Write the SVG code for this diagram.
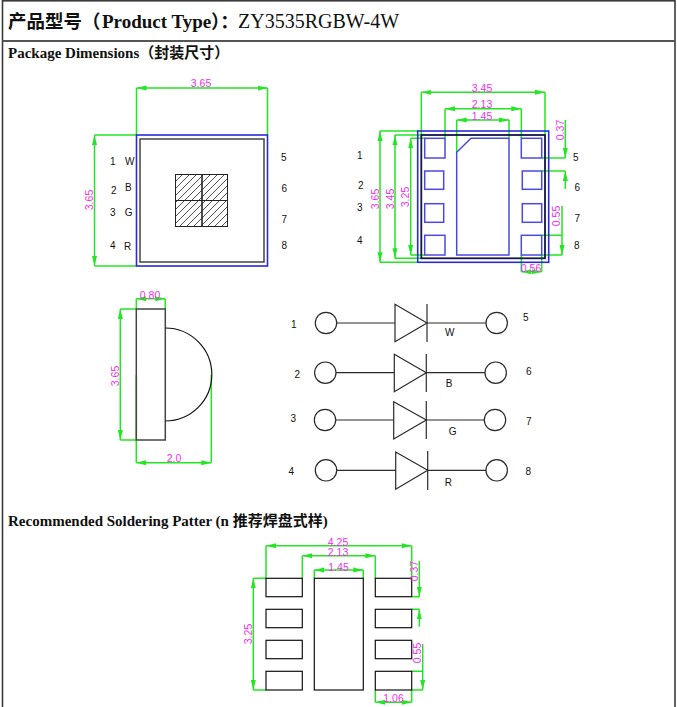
<svg xmlns="http://www.w3.org/2000/svg" width="677" height="707" viewBox="0 0 677 707">
<style>
.frame{fill:none;stroke:#3a3a3a;stroke-width:1.6}
.title{font-family:"Liberation Serif","Noto Sans CJK SC",serif;font-size:18.5px;font-weight:bold;fill:#111}
.sec{font-family:"Liberation Serif","Noto Sans CJK SC",serif;font-size:15px;font-weight:bold;fill:#111}
.dim{fill:none;stroke:#22e622;stroke-width:1.5}
.arr{marker-start:url(#a);marker-end:url(#a)}
.arrE{marker-end:url(#a)}
.arrS{marker-start:url(#a)}
.dt{font-family:"Liberation Sans",sans-serif;font-size:10.5px;fill:#f030f0;text-anchor:middle}
.lb{font-family:"Liberation Sans",sans-serif;font-size:10px;fill:#111;text-anchor:middle}
.blue{fill:none;stroke:#2a2ad8;stroke-width:1.6}
.bluel{fill:none;stroke:#4a4ae0;stroke-width:1.5}
.blk{fill:none;stroke:#111;stroke-width:1.2}
.blk2{fill:none;stroke:#444;stroke-width:1.5}
.wire{fill:none;stroke:#2a2a2a;stroke-width:1.2}
</style>
<defs>
<marker id="a" markerUnits="userSpaceOnUse" markerWidth="12" markerHeight="6" refX="10" refY="3" orient="auto-start-reverse"><path d="M10,3 L0,.5 L0,5.5 Z" fill="#22e622"/></marker>
<pattern id="h" patternUnits="userSpaceOnUse" width="7" height="7"><path d="M-1,8 L8,-1 M-1,1 L1,-1 M6,8 L8,6" stroke="#222" stroke-width=".8"/></pattern>
</defs>

<g id="frame">
<rect class="frame" x="2.5" y="0.8" width="672.5" height="720"/>
<line x1="2.5" y1="41" x2="675" y2="41" stroke="#555" stroke-width="2"/>
</g>
<g id="titles">
<text class="title" x="8" y="27.5">产品型号（<tspan x="102" font-size="19">Product Type</tspan><tspan x="211">）：</tspan><tspan x="238" font-size="20" font-weight="normal">ZY3535RGBW-4W</tspan></text>
<text class="sec" x="8" y="58">Package Dimensions（封装尺寸）</text>
<text class="sec" x="8" y="526">Recommended Soldering Patter (n 推荐焊盘式样)</text>
</g>

<g id="connectors">
<path class="dim" d="M136.5,135V88M267.5,135V88M136.5,266H94.5M136.5,135H94.5"/>
<line class="dim arr" x1="136.5" y1="88" x2="267.5" y2="88"/>
<line class="dim arr" x1="94.5" y1="135" x2="94.5" y2="266"/>
<path class="dim" d="M421.3,135V92.3M545,135V92.3M445,138.3V108.7M521.3,138.3V108.7M456.7,152V120M509,138.3V120M418,131H380M418,262.3H380M421.3,135H395M421.3,258.3H395M424.7,138.3H410.7M424.7,255H410.7M541.7,158H565.3M541.7,171H565.3M541.7,235.3H562M541.7,255H562M521.3,255V271.7M541.7,255V271.7"/>
<line class="dim arr" x1="421.3" y1="92.3" x2="545" y2="92.3"/>
<line class="dim arr" x1="445" y1="108.7" x2="521.3" y2="108.7"/>
<line class="dim arr" x1="456.7" y1="120" x2="509" y2="120"/>
<line class="dim arr" x1="380" y1="131" x2="380" y2="262.3"/>
<line class="dim arr" x1="395" y1="135" x2="395" y2="258.3"/>
<line class="dim arr" x1="410.7" y1="138.3" x2="410.7" y2="255"/>
<line class="dim arrE" x1="565.3" y1="120" x2="565.3" y2="158"/>
<line class="dim arrS" x1="565.3" y1="171" x2="565.3" y2="189"/>
<line class="dim arrE" x1="562" y1="206" x2="562" y2="255"/>
<line class="dim arr" x1="521.3" y1="271.7" x2="541.7" y2="271.7"/>
<path class="dim" d="M136.3,309V298.7M165.3,309V298.7M136.3,309H120.3M136.3,440H120.3M136.3,375V462.7M211.3,375V462.7"/>
<line class="dim arr" x1="136.3" y1="298.7" x2="165.3" y2="298.7"/>
<line class="dim arr" x1="120.3" y1="309" x2="120.3" y2="440"/>
<line class="dim arr" x1="136.3" y1="462.7" x2="211.3" y2="462.7"/>
<path class="dim" d="M266,578.3V545.7M411.7,578.3V545.7M302.3,578.3V555.7M375.3,578.3V555.7M314.3,578.3V570M363.3,578.3V570M266,578.3H253.3M266,690H253.3M411.7,596.7H419.3M411.7,609.3H419.3M411.7,671.3H422.7M411.7,690H422.7M375.3,690V702.3M411.7,690V702.3"/>
<line class="dim arr" x1="266" y1="545.7" x2="411.7" y2="545.7"/>
<line class="dim arr" x1="302.3" y1="555.7" x2="375.3" y2="555.7"/>
<line class="dim arr" x1="314.3" y1="570" x2="363.3" y2="570"/>
<line class="dim arr" x1="253.3" y1="578.3" x2="253.3" y2="690"/>
<line class="dim arrE" x1="419.3" y1="561" x2="419.3" y2="596.7"/>
<line class="dim arrS" x1="419.3" y1="609.3" x2="419.3" y2="626.7"/>
<line class="dim arrE" x1="422.7" y1="644" x2="422.7" y2="690"/>
<line class="dim arr" x1="375.3" y1="702.3" x2="411.7" y2="702.3"/>
<path class="wire" d="M336.7,323H395M427,323H486M336,372.7H394.3M426.3,372.7H485M335.7,420H393.7M426.3,420H484.3M336.7,470.3H395.7M427.7,470.3H486"/>
</g>

<g id="top-view">
<rect class="blue" x="136.5" y="135" width="131" height="131"/>
<rect class="blk2" x="140" y="139" width="124" height="123"/>
<rect x="175.5" y="174.5" width="52" height="52" fill="url(#h)" stroke="#222"/>
<path d="M202,174.5V226.5" stroke="#222" stroke-width="1.6"/>
<path d="M175.5,200.5H227.5" stroke="#222"/>
</g>

<g id="bottom-view">
<rect class="blue" x="417.7" y="131" width="131" height="131.3"/>
<rect fill="none" stroke="#15154a" stroke-width="1.8" x="421.3" y="135" width="123.7" height="123.3"/>
<g class="bluel">
<rect x="424.7" y="138.3" width="20.3" height="19.7"/>
<rect x="424.7" y="171" width="19" height="18.3"/>
<rect x="424.7" y="203.7" width="19" height="18.6"/>
<rect x="424.7" y="235.3" width="20.3" height="19.7"/>
<rect x="521.3" y="138.3" width="20.4" height="19.7"/>
<rect x="522.3" y="171" width="19.4" height="18.3"/>
<rect x="522.3" y="203.7" width="19.4" height="18.6"/>
<rect x="521.3" y="235.3" width="20.4" height="19.7"/>
<path d="M456.7,152.3L471,138.3H509V255H456.7Z"/>
</g>
</g>

<g id="side-view">
<rect class="blk2" x="136.3" y="309" width="29" height="131"/>
<path class="blk" d="M165.3,328A46.5,46.5 0 0 1 165.3,421"/>
</g>

<g id="circuit">
<g class="wire">
<circle cx="326" cy="323" r="10.7"/><path d="M395,304.3V341.7L427,323Z"/><path d="M427,304V342"/><circle cx="496.7" cy="323" r="10.7"/>
<circle cx="325.3" cy="372.7" r="10.7"/><path d="M394.3,354.3V391.7L426.3,372.7Z"/><path d="M426.3,354V392"/><circle cx="495.7" cy="372.7" r="10.7"/>
<circle cx="325" cy="420" r="10.7"/><path d="M393.7,401.7V439L426.3,420Z"/><path d="M426.3,401V439"/><circle cx="495" cy="420" r="10.7"/>
<circle cx="326" cy="470.3" r="10.7"/><path d="M395.7,452V489.3L427.7,470.3Z"/><path d="M427.7,451V490"/><circle cx="496.7" cy="470.3" r="10.7"/>
</g>
</g>

<g id="soldering">
<g class="blk">
<rect x="266" y="578.3" width="36.3" height="18.4"/>
<rect x="266" y="609.3" width="36.3" height="18.4"/>
<rect x="266" y="640.3" width="36.3" height="18.4"/>
<rect x="266" y="671.3" width="36.3" height="18.7"/>
<rect x="375.3" y="578.3" width="36.4" height="18.4"/>
<rect x="375.3" y="609.3" width="36.4" height="18.4"/>
<rect x="375.3" y="640.3" width="36.4" height="18.4"/>
<rect x="375.3" y="671.3" width="36.4" height="18.7"/>
<rect x="314.3" y="578.3" width="49" height="111.7"/>
</g>
</g>

<g id="dim-labels">
<text class="dt" x="201" y="87">3.65</text>
<text class="dt" transform="translate(93,200) rotate(-90)">3.65</text>
<text class="dt" x="482" y="92">3.45</text>
<text class="dt" x="482" y="108">2.13</text>
<text class="dt" x="482" y="119.5">1.45</text>
<text class="dt" transform="translate(379,199) rotate(-90)">3.65</text>
<text class="dt" transform="translate(394,199) rotate(-90)">3.45</text>
<text class="dt" transform="translate(409,197) rotate(-90)">3.25</text>
<text class="dt" transform="translate(564,130) rotate(-90)">0.37</text>
<text class="dt" transform="translate(560,216) rotate(-90)">0.55</text>
<text class="dt" x="531" y="271.5">0.56</text>
<text class="dt" x="150" y="298.5">0.80</text>
<text class="dt" transform="translate(119,376) rotate(-90)">3.65</text>
<text class="dt" x="174" y="462">2.0</text>
<text class="dt" x="338" y="545.5">4.25</text>
<text class="dt" x="338" y="555.5">2.13</text>
<text class="dt" x="338.5" y="571">1.45</text>
<text class="dt" transform="translate(252,634) rotate(-90)">3.25</text>
<text class="dt" transform="translate(418,571) rotate(-90)">0.37</text>
<text class="dt" transform="translate(421,653) rotate(-90)">0.55</text>
<text class="dt" x="393.5" y="702">1.06</text>
</g>

<g id="pin-labels">
<text class="lb" x="112.7" y="165">1</text><text class="lb" x="129.7" y="165">W</text>
<text class="lb" x="113.7" y="194">2</text><text class="lb" x="128.3" y="191">B</text>
<text class="lb" x="112.7" y="216">3</text><text class="lb" x="128.7" y="216">G</text>
<text class="lb" x="112.7" y="249">4</text><text class="lb" x="127.7" y="250">R</text>
<text class="lb" x="283.7" y="161">5</text><text class="lb" x="284.3" y="192">6</text>
<text class="lb" x="284.3" y="223">7</text><text class="lb" x="284.3" y="249">8</text>
<text class="lb" x="359.7" y="159">1</text><text class="lb" x="360.7" y="189">2</text>
<text class="lb" x="359.7" y="211">3</text><text class="lb" x="359.7" y="244">4</text>
<text class="lb" x="575.7" y="161">5</text><text class="lb" x="577.3" y="191">6</text>
<text class="lb" x="577.3" y="222">7</text><text class="lb" x="576.7" y="249">8</text>
<text class="lb" x="293.7" y="328">1</text><text class="lb" x="525.7" y="321">5</text>
<text class="lb" x="297.3" y="378">2</text><text class="lb" x="528.7" y="375">6</text>
<text class="lb" x="293.3" y="422">3</text><text class="lb" x="528.7" y="425">7</text>
<text class="lb" x="291.3" y="475">4</text><text class="lb" x="528.3" y="475">8</text>
<text class="lb" x="449.7" y="336">W</text><text class="lb" x="449" y="387">B</text>
<text class="lb" x="452.7" y="435">G</text><text class="lb" x="448.3" y="486">R</text>
</g>
</svg>
